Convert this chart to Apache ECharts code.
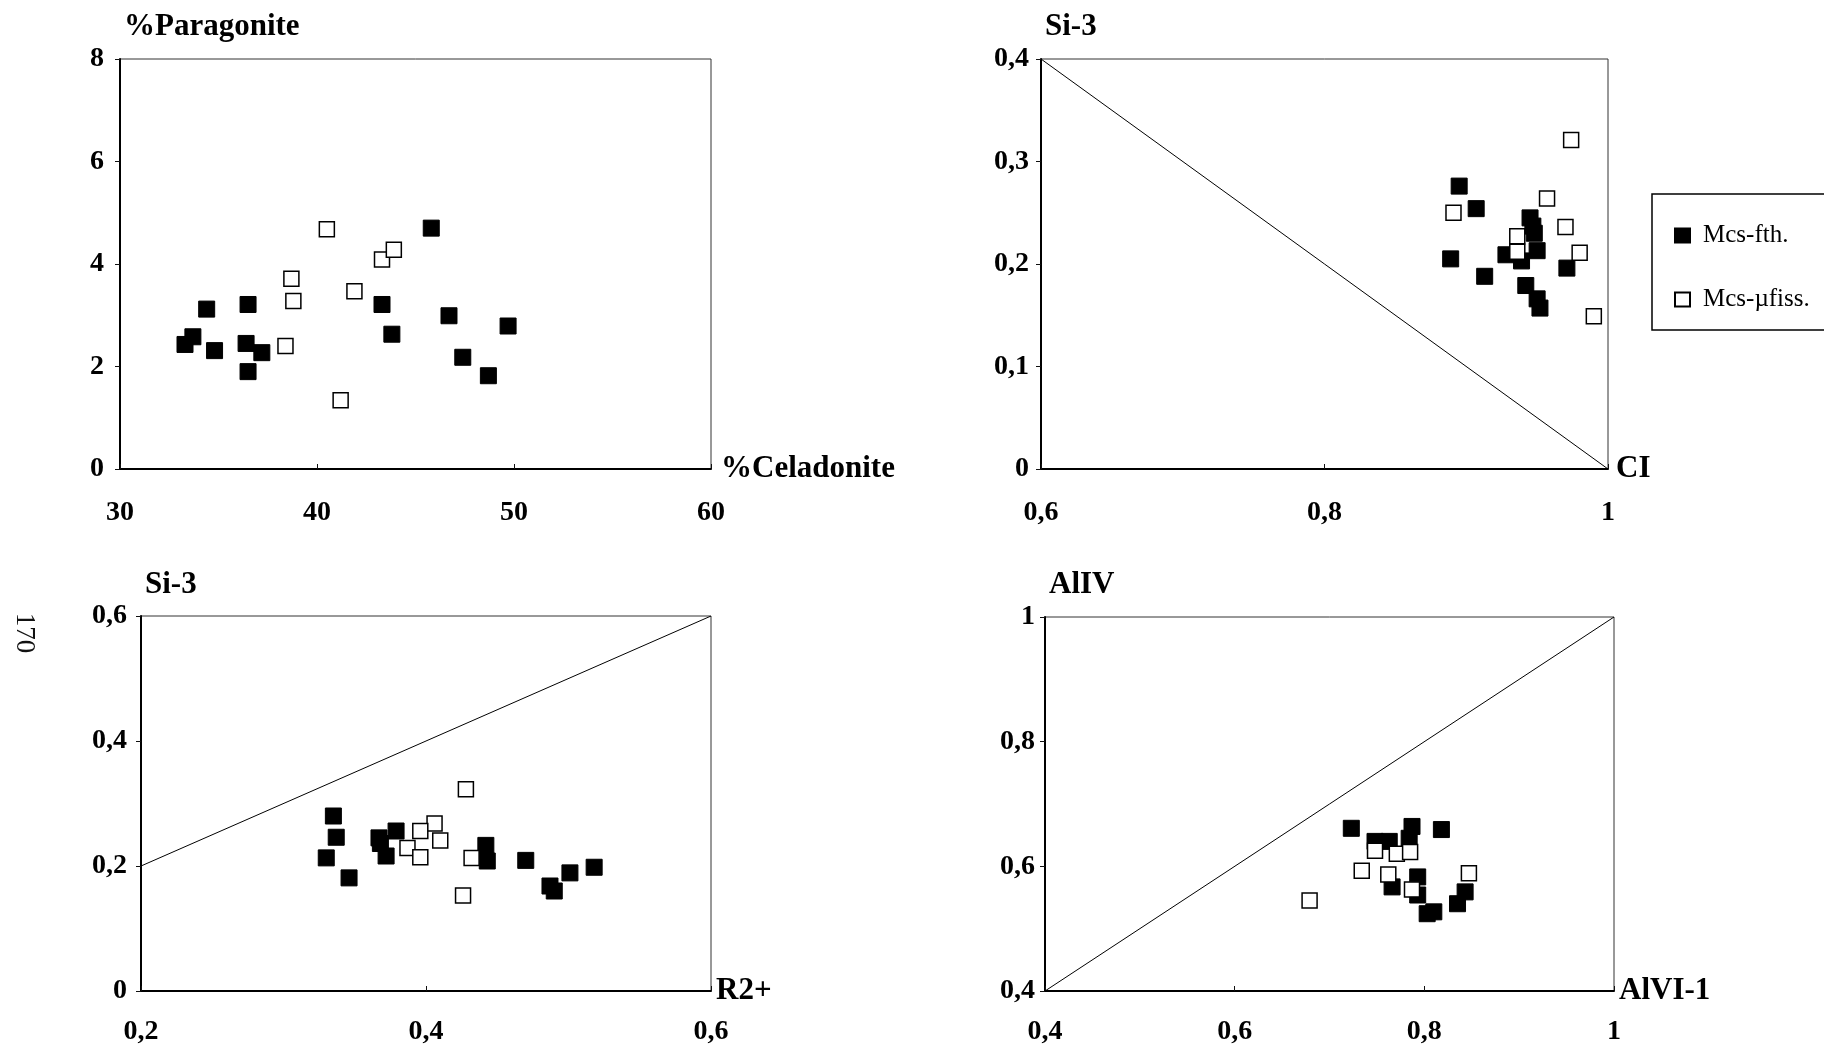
<!DOCTYPE html>
<html>
<head>
<meta charset="utf-8">
<script src="https://cdn.jsdelivr.net/npm/echarts@6/dist/echarts.min.js"></script>
<style>
html,body{margin:0;padding:0;background:#fff;}
#chart{width:1824px;height:1050px;}
</style>
</head>
<body>
<div id="chart"></div>
<script>
// ---------- Panel 1: %Celadonite vs %Paragonite ----------
const p1FilledX = [33.3, 33.7, 34.4, 34.8, 36.5, 36.4, 37.2, 36.5, 43.3, 43.8, 45.8, 46.7, 47.4, 48.7, 49.7];
const p1FilledY = [2.43, 2.58, 3.12, 2.31, 3.21, 2.45, 2.27, 1.90, 3.21, 2.63, 4.70, 2.99, 2.18, 1.82, 2.79];
const p1OpenX = [40.5, 38.7, 38.8, 38.4, 41.9, 43.3, 43.9, 41.2];
const p1OpenY = [4.68, 3.71, 3.28, 2.40, 3.47, 4.09, 4.28, 1.34];
const p1XTicks = [30, 40, 50, 60];
const p1YTicks = [0, 2, 4, 6, 8];

// ---------- Panel 2: CI vs Si-3 ----------
const p2FilledX = [0.895, 0.907, 0.889, 0.913, 0.945, 0.947, 0.948, 0.928, 0.939, 0.950, 0.942, 0.950, 0.952, 0.971];
const p2FilledY = [0.276, 0.254, 0.205, 0.188, 0.245, 0.237, 0.230, 0.209, 0.203, 0.213, 0.179, 0.166, 0.157, 0.196];
const p2OpenX = [0.891, 0.957, 0.974, 0.936, 0.936, 0.970, 0.980, 0.990];
const p2OpenY = [0.250, 0.264, 0.321, 0.227, 0.212, 0.236, 0.211, 0.149];
const p2LineX = [0.6, 1.0];
const p2LineY = [0.4, 0.0];
const p2XTicks = [0.6, 0.8, 1.0];
const p2YTicks = [0, 0.1, 0.2, 0.3, 0.4];

// ---------- Panel 3: R2+ vs Si-3 ----------
const p3FilledX = [0.335, 0.337, 0.330, 0.346, 0.367, 0.368, 0.379, 0.372, 0.442, 0.443, 0.470, 0.487, 0.490, 0.501, 0.518];
const p3FilledY = [0.280, 0.246, 0.213, 0.181, 0.245, 0.236, 0.256, 0.216, 0.233, 0.208, 0.209, 0.168, 0.160, 0.189, 0.198];
const p3OpenX = [0.428, 0.406, 0.396, 0.410, 0.387, 0.396, 0.432, 0.426];
const p3OpenY = [0.323, 0.268, 0.256, 0.241, 0.229, 0.214, 0.213, 0.153];
const p3LineX = [0.2, 0.6];
const p3LineY = [0.2, 0.6];
const p3XTicks = [0.2, 0.4, 0.6];
const p3YTicks = [0, 0.2, 0.4, 0.6];

// ---------- Panel 4: AlVI-1 vs AlIV ----------
const p4FilledX = [0.723, 0.787, 0.818, 0.748, 0.763, 0.784, 0.766, 0.793, 0.793, 0.803, 0.810, 0.835, 0.843];
const p4FilledY = [0.661, 0.664, 0.659, 0.640, 0.640, 0.645, 0.567, 0.583, 0.554, 0.524, 0.527, 0.540, 0.559];
const p4OpenX = [0.679, 0.734, 0.748, 0.771, 0.785, 0.762, 0.787, 0.847];
const p4OpenY = [0.545, 0.593, 0.625, 0.620, 0.623, 0.587, 0.563, 0.589];
const p4LineX = [0.4, 1.0];
const p4LineY = [0.4, 1.0];
const p4XTicks = [0.4, 0.6, 0.8, 1.0];
const p4YTicks = [0.4, 0.6, 0.8, 1.0];

const seriesFilled = 'Mcs-fth.';
const seriesOpen = 'Mcs-\u00b5fiss.';
const axisNames = [
  ['%Celadonite', '%Paragonite'],
  ['CI', 'Si-3'],
  ['R2+', 'Si-3'],
  ['AlVI-1', 'AlIV']
];
const pageNumber = '170';

// ---------- helpers ----------
const FONT = 'Liberation Serif';
const zip = (xs, ys) => xs.map((x, i) => [x, ys[i]]);
const fmt = v => String(+v.toFixed(4)).replace('.', ',');

function xAxisCfg(idx, ticks, name, labelMargin, nameGap) {
  return {
    type: 'value', gridIndex: idx,
    min: ticks[0], max: ticks[ticks.length - 1], interval: ticks[1] - ticks[0],
    name: name, nameLocation: 'end', nameGap: nameGap,
    nameTextStyle: { fontFamily: FONT, fontWeight: 'bold', fontSize: 31, color: '#000',
                     align: 'left', verticalAlign: 'middle' },
    axisLine: { show: true, onZero: false, lineStyle: { color: '#000', width: 2 } },
    axisTick: { show: true, inside: true, length: 5, lineStyle: { color: '#111', width: 1 } },
    axisLabel: { fontFamily: FONT, fontWeight: 'bold', fontSize: 28, color: '#000',
                 margin: labelMargin, formatter: fmt },
    splitLine: { show: false }
  };
}
function yAxisCfg(idx, ticks, name, nameGap, labelMargin) {
  return {
    type: 'value', gridIndex: idx,
    min: ticks[0], max: ticks[ticks.length - 1], interval: ticks[1] - ticks[0],
    name: name, nameLocation: 'end', nameGap: nameGap,
    nameTextStyle: { fontFamily: FONT, fontWeight: 'bold', fontSize: 31, color: '#000',
                     align: 'left', verticalAlign: 'middle', padding: [0, 0, 0, 4] },
    axisLine: { show: true, onZero: false, lineStyle: { color: '#000', width: 2 } },
    axisTick: { show: true, inside: false, length: 5, lineStyle: { color: '#111', width: 1 } },
    axisLabel: { fontFamily: FONT, fontWeight: 'bold', fontSize: 28, color: '#000',
                 margin: labelMargin, formatter: fmt },
    splitLine: { show: false }
  };
}
function filled(idx, xs, ys) {
  return { name: seriesFilled, type: 'scatter', xAxisIndex: idx, yAxisIndex: idx,
    symbol: 'rect', symbolSize: 16, data: zip(xs, ys),
    itemStyle: { color: '#000', borderColor: '#000', borderWidth: 1, opacity: 1 }, z: 3 };
}
function open(idx, xs, ys) {
  return { name: seriesOpen, type: 'scatter', xAxisIndex: idx, yAxisIndex: idx,
    symbol: 'rect', symbolSize: 15, data: zip(xs, ys),
    itemStyle: { color: '#fff', borderColor: '#000', borderWidth: 1.5, opacity: 1 }, z: 4 };
}
function diag(idx, xs, ys) {
  return { type: 'line', xAxisIndex: idx, yAxisIndex: idx, data: zip(xs, ys),
    symbol: 'none', silent: true, lineStyle: { color: '#000', width: 1 }, z: 2 };
}

const gridStyle = { show: true, borderColor: '#333', borderWidth: 1, backgroundColor: 'transparent' };

const option = {
  backgroundColor: '#fff',
  animation: false,
  grid: [
    Object.assign({ left: 120, top: 59, width: 591, height: 410 }, gridStyle),
    Object.assign({ left: 1041, top: 59, width: 567, height: 410 }, gridStyle),
    Object.assign({ left: 141, top: 616, width: 570, height: 375 }, gridStyle),
    Object.assign({ left: 1045, top: 617, width: 569, height: 374 }, gridStyle)
  ],
  xAxis: [
    xAxisCfg(0, p1XTicks, axisNames[0][0], 30, 10),
    xAxisCfg(1, p2XTicks, axisNames[1][0], 30, 8),
    xAxisCfg(2, p3XTicks, axisNames[2][0], 27, 5),
    xAxisCfg(3, p4XTicks, axisNames[3][0], 27, 5)
  ],
  yAxis: [
    yAxisCfg(0, p1YTicks, axisNames[0][1], 32, 16),
    yAxisCfg(1, p2YTicks, axisNames[1][1], 32, 12),
    yAxisCfg(2, p3YTicks, axisNames[2][1], 31, 14),
    yAxisCfg(3, p4YTicks, axisNames[3][1], 32, 10)
  ],
  legend: {
    orient: 'vertical',
    left: 1652, top: 194,
    data: [seriesFilled, seriesOpen],
    icon: 'rect',
    itemWidth: 15, itemHeight: 14,
    itemGap: 39,
    padding: [29, 80, 18, 22],
    borderColor: '#000', borderWidth: 1.5,
    textStyle: { fontFamily: FONT, fontSize: 25, color: '#000', padding: [0, 0, 0, 8] },
    selectedMode: false
  },
  graphic: [{
    type: 'text',
    x: 24, y: 633,
    rotation: -Math.PI / 2,
    style: { text: pageNumber, fontFamily: FONT, fontSize: 27, fill: '#111',
             textAlign: 'center', textVerticalAlign: 'middle' }
  }],
  series: [
    filled(0, p1FilledX, p1FilledY), open(0, p1OpenX, p1OpenY),
    diag(1, p2LineX, p2LineY), filled(1, p2FilledX, p2FilledY), open(1, p2OpenX, p2OpenY),
    diag(2, p3LineX, p3LineY), filled(2, p3FilledX, p3FilledY), open(2, p3OpenX, p3OpenY),
    diag(3, p4LineX, p4LineY), filled(3, p4FilledX, p4FilledY), open(3, p4OpenX, p4OpenY)
  ]
};

const chart = echarts.init(document.getElementById('chart'), null, { renderer: 'canvas' });
chart.setOption(option);
</script>
</body>
</html>
